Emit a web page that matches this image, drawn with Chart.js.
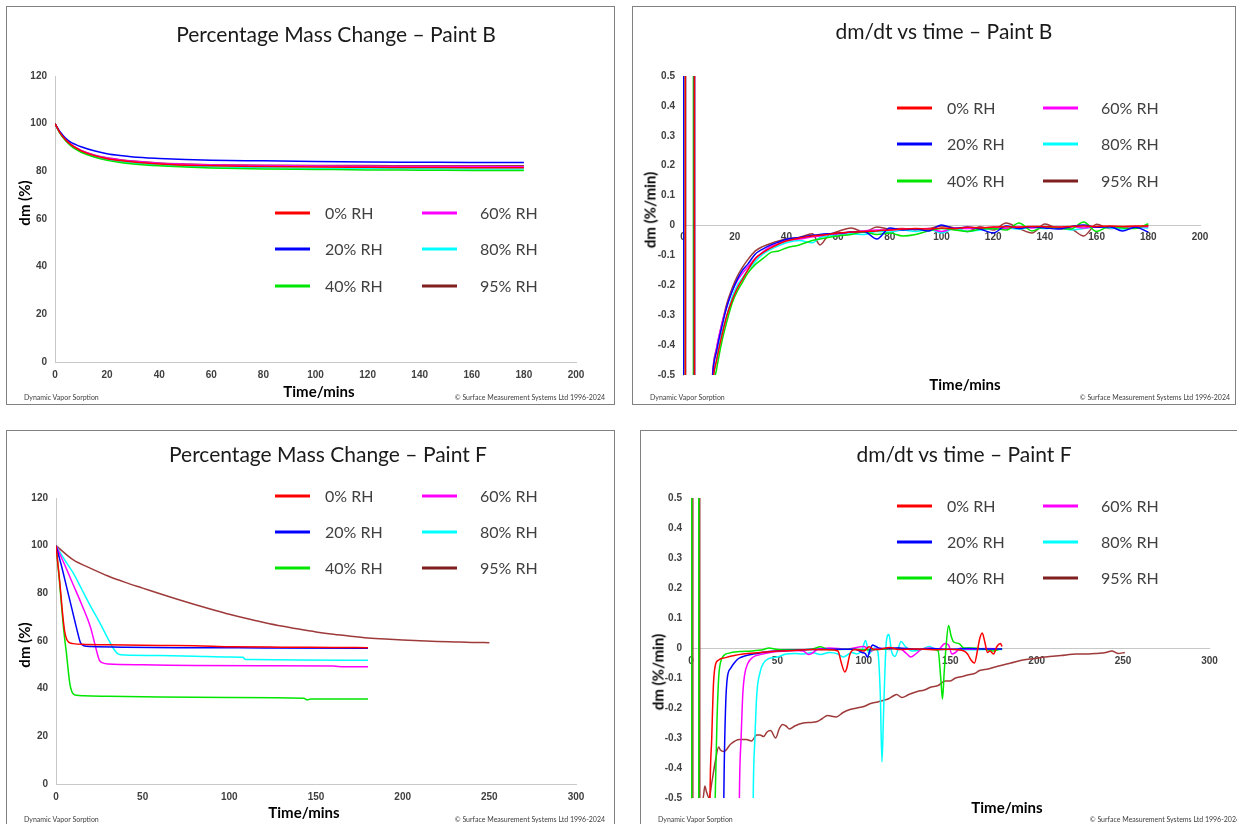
<!DOCTYPE html>
<html><head><meta charset="utf-8">
<script src="https://cdn.jsdelivr.net/npm/chart.js@4.4.1/dist/chart.umd.min.js"></script>
<style>
html,body{margin:0;padding:0;background:#fff;width:1237px;height:824px;overflow:hidden;position:relative;font-family:Lato,'Open Sans',sans-serif;}
.panel{position:absolute;border:1px solid #808080;box-sizing:border-box;background:#fff;}
canvas{position:absolute;}
.t{position:absolute;white-space:nowrap;transform:translate(-50%,-50%);line-height:1;}
.ttl{font-size:21px;color:#1a1a1a;}
.ax{font-size:15px;font-weight:bold;color:#000;}
.axv{font-size:15px;font-weight:bold;color:#000;transform:translate(-50%,-50%) rotate(-90deg);}
.foot{position:absolute;font-size:7px;color:#404040;white-space:nowrap;line-height:1;transform:translateY(-50%);}
.lg{position:absolute;font-size:16px;color:#404040;white-space:nowrap;line-height:1;transform:translateY(-50%);}
.sw{position:absolute;width:35px;height:3px;transform:translateY(-50%);}
</style></head><body>
<div class="panel" style="left:6px;top:6px;width:609px;height:399px"></div>
<div class="panel" style="left:632px;top:6px;width:604px;height:399px"></div>
<div class="panel" style="left:6px;top:430px;width:609px;height:400px"></div>
<div class="panel" style="left:640px;top:430px;width:600px;height:400px"></div>
<canvas id="c1"></canvas><canvas id="c2"></canvas><canvas id="c3"></canvas><canvas id="c4"></canvas>
<div id="txt"></div>
<script>
// ---------------- DATA ----------------
const seriesNames = ['0% RH','20% RH','40% RH','60% RH','80% RH','95% RH'];

// Panel 1: Percentage Mass Change - Paint B (time in mins, dm in %)
const timeB = [0,2,4,6,8,10,15,20,25,30,40,50,60,80,100,120,140,160,180];
const massB_0  = [100,96,93.3,91.3,89.8,88.6,86.6,85.3,84.5,83.9,83.1,82.6,82.3,82.0,81.8,81.7,81.6,81.5,81.5];
const massB_20 = [100,96.5,94,92.3,91.2,90.3,88.6,87.4,86.6,86.0,85.4,85.0,84.7,84.4,84.1,83.9,83.8,83.7,83.7];
const massB_40 = [100,95.8,92.9,90.8,89.2,88.0,86.0,84.6,83.7,83.1,82.3,81.8,81.4,81.0,80.8,80.6,80.5,80.4,80.3];
const massB_60 = [100,96,93.4,91.4,89.9,88.8,86.8,85.6,84.8,84.2,83.4,83.0,82.7,82.4,82.2,82.1,82.0,82.0,81.9];
const massB_80 = [100,95.9,93.1,91.0,89.5,88.3,86.3,85.0,84.1,83.5,82.7,82.2,81.9,81.5,81.3,81.2,81.1,81.0,81.0];
const massB_95 = [100,96,93.3,91.3,89.9,88.8,86.9,85.7,84.9,84.3,83.5,83.1,82.8,82.6,82.4,82.4,82.3,82.3,82.3];

// Panel 2: dm/dt vs time - Paint B (%/min)
const timeDB = [0,0.3,0.9,0.95,4.0,4.05,4.4,4.45,9,11.5,13,15,17,19,21,23,25,28,31,34,37,40,45,50,53,56,60,65,70,75,80,85,90,95,100,105,110,115,120,125,130,135,140,145,150,155,160,165,170,175,180];
const dmdtB_0  = [-20,-20,-20,20,20,20,20,-20,-1.5,-0.53,-0.45,-0.37,-0.3,-0.25,-0.21,-0.18,-0.15,-0.11,-0.09,-0.075,-0.062,-0.052,-0.042,-0.035,-0.033,-0.03,-0.025,-0.022,-0.02,-0.018,-0.015,-0.012,-0.01,-0.012,-0.008,-0.01,-0.006,-0.008,-0.005,-0.004,-0.006,-0.003,-0.004,-0.005,-0.003,-0.002,-0.003,-0.002,-0.003,-0.002,-0.002];
const dmdtB_20 = [-20,20,20,20,20,20,20,-20,-1.5,-0.5,-0.42,-0.34,-0.27,-0.22,-0.18,-0.15,-0.13,-0.095,-0.078,-0.065,-0.055,-0.046,-0.04,-0.033,-0.03,-0.028,-0.026,-0.022,-0.02,-0.045,-0.008,-0.015,-0.012,-0.018,0.002,-0.01,-0.005,-0.012,-0.025,-0.002,-0.01,-0.004,-0.008,-0.012,-0.004,0.002,-0.006,-0.004,-0.018,-0.006,-0.022];
const dmdtB_40 = [-20,-20,-20,20,20,-20,-20,-20,-1.5,-0.56,-0.48,-0.39,-0.32,-0.26,-0.22,-0.19,-0.16,-0.13,-0.11,-0.09,-0.085,-0.075,-0.065,-0.05,-0.045,-0.04,-0.035,-0.03,-0.022,-0.03,-0.025,-0.035,-0.03,-0.018,-0.01,-0.015,-0.02,-0.012,-0.01,-0.015,0.008,-0.018,-0.005,-0.008,-0.012,0.012,-0.02,-0.003,-0.008,-0.01,0.006];
const dmdtB_60 = [-20,-20,-20,20,20,20,20,-20,-1.5,-0.5,-0.41,-0.33,-0.27,-0.22,-0.185,-0.16,-0.14,-0.11,-0.088,-0.07,-0.06,-0.05,-0.045,-0.038,-0.035,-0.03,-0.028,-0.022,-0.018,-0.015,-0.015,-0.012,-0.012,-0.01,-0.02,-0.008,-0.01,-0.008,-0.006,-0.01,-0.004,-0.008,-0.004,-0.006,-0.004,-0.008,-0.004,-0.005,-0.006,-0.004,-0.004];
const dmdtB_80 = [-20,-20,-20,20,20,20,20,-20,-1.5,-0.53,-0.45,-0.36,-0.3,-0.24,-0.2,-0.175,-0.15,-0.12,-0.095,-0.08,-0.068,-0.058,-0.05,-0.058,-0.04,-0.035,-0.03,-0.028,-0.03,-0.02,-0.022,-0.015,-0.02,-0.012,-0.025,-0.01,-0.02,-0.015,-0.01,-0.008,-0.012,-0.006,-0.01,-0.006,-0.015,-0.01,-0.004,-0.008,-0.012,-0.006,-0.008];
const dmdtB_95 = [-20,-20,-20,20,20,20,20,-20,-1.5,-0.49,-0.41,-0.33,-0.26,-0.21,-0.17,-0.14,-0.115,-0.085,-0.07,-0.06,-0.052,-0.045,-0.04,-0.028,-0.065,-0.035,-0.02,-0.008,-0.022,-0.005,-0.012,-0.01,-0.015,-0.01,-0.002,-0.008,-0.02,-0.004,-0.015,0.008,-0.01,-0.025,0.005,-0.01,-0.012,-0.035,0.004,-0.01,-0.006,-0.008,0.002];

// Panel 3: Percentage Mass Change - Paint F  [time, dm%]
const massF_0  = [[0,100],[2,86],[4,70],[5,64],[6,61],[7,59.8],[8,59.2],[10,58.9],[15,58.6],[30,58.4],[60,58.1],[80,58.0],[100,57.6],[130,57.4],[160,57.3],[180,57.2]];
const massF_20 = [[0,100],[3,92],[6,83],[9,74],[12,65],[14,59.5],[16,58],[20,57.7],[40,57.4],[70,57.2],[120,57.1],[180,57.0]];
const massF_40 = [[0,100],[2,85],[4,68],[5,61],[6,55],[7,48],[8,42],[9,39],[10,37.8],[12,37.2],[16,37.0],[30,36.8],[60,36.5],[100,36.3],[143,36.0],[145,35.3],[147,35.7],[180,35.7]];
const massF_60 = [[0,100],[5,92],[10,83.5],[15,75],[20,65.5],[23,57],[25,52],[27,50.8],[30,50.3],[50,50.0],[80,49.7],[120,49.6],[160,49.5],[166,49.2],[180,49.2]];
const massF_80 = [[0,100],[5,94],[10,88.5],[15,81.5],[20,74.5],[25,68],[30,61],[33,57],[36,54.5],[40,54.1],[60,53.9],[80,53.6],[100,53.3],[108,53.2],[109,52.3],[112,52.2],[140,52.0],[180,51.9]];
const massF_95 = [[0,100],[10,94],[20,90.5],[30,87.3],[40,84.6],[50,82.2],[60,79.8],[70,77.5],[80,75.3],[90,73.2],[100,71.2],[110,69.4],[120,67.8],[130,66.3],[140,65],[150,63.8],[160,62.8],[170,62],[180,61.3],[190,60.8],[200,60.4],[210,60.1],[220,59.8],[230,59.6],[240,59.4],[250,59.3]];

// Panel 4: dm/dt vs time - Paint F  [time, %/min]
const dmdtF_0  = [[8,-3],[11,-0.5],[12,-0.3],[13,-0.12],[14,-0.06],[16,-0.04],[20,-0.032],[25,-0.025],[30,-0.02],[40,-0.015],[50,-0.01],[60,-0.008],[70,-0.005],[80,-0.006],[85,-0.01],[87,-0.05],[89,-0.08],[90,-0.07],[92,-0.02],[95,-0.005],[100,-0.01],[103,0.004],[106,-0.005],[110,-0.004],[115,0.002],[120,-0.005],[130,-0.003],[140,-0.006],[150,-0.004],[158,-0.01],[160,-0.02],[162,-0.04],[164,-0.05],[166,0.0],[167,0.03],[168.5,0.05],[170,0.02],[171.5,-0.015],[173,-0.01],[175,-0.02],[177,0.005],[179,0.015],[180,0.005]];
const dmdtF_20 = [[16,-3],[19,-0.5],[20,-0.2],[21,-0.1],[23,-0.067],[25,-0.05],[27.5,-0.035],[32,-0.025],[38,-0.018],[45,-0.012],[55,-0.008],[65,-0.006],[80,-0.004],[95,-0.004],[99,-0.015],[101,-0.02],[102,-0.03],[104,0.0],[105,0.01],[107,0.005],[110,-0.002],[120,0.0],[130,-0.004],[140,-0.002],[150,-0.004],[160,-0.002],[170,-0.003],[180,-0.003]];
const dmdtF_40 = [[0.35,-20],[0.5,20],[4.4,20],[4.55,-20],[10,-2],[14,-0.5],[15,-0.25],[16,-0.1],[17,-0.05],[19,-0.025],[22,-0.017],[28,-0.012],[35,-0.01],[42,-0.005],[45,0.0],[50,-0.005],[60,-0.006],[70,-0.004],[75,0.004],[80,-0.006],[90,-0.004],[100,-0.006],[110,-0.004],[120,-0.002],[130,-0.005],[140,-0.004],[143,-0.01],[144.5,-0.1],[145.5,-0.17],[146.5,-0.08],[147.5,0.0],[149,0.075],[150.5,0.04],[152,0.02],[155,0.015],[158,0.0],[162,0.0],[170,-0.004],[175,-0.01],[178,-0.005],[180,-0.002]];
const dmdtF_60 = [[25,-3],[28,-0.5],[29,-0.3],[30,-0.15],[31,-0.09],[33,-0.05],[36,-0.03],[40,-0.022],[45,-0.016],[50,-0.012],[60,-0.008],[65,-0.01],[68,-0.022],[70,-0.018],[73,-0.005],[80,0.0],[90,-0.004],[100,0.005],[104,-0.01],[108,0.0],[115,-0.005],[120,0.0],[125,-0.02],[127,-0.03],[130,-0.02],[133,-0.005],[138,0.0],[143,-0.005],[147,0.015],[149,0.01],[151,-0.02],[153,-0.015],[156,0.0],[160,-0.004],[170,-0.002],[180,-0.003]];
const dmdtF_80 = [[33,-3],[36,-0.5],[37,-0.3],[38,-0.16],[40,-0.08],[42,-0.05],[45,-0.035],[50,-0.03],[55,-0.02],[60,-0.018],[65,-0.02],[70,-0.015],[75,-0.022],[80,-0.015],[85,-0.02],[88,-0.03],[90,-0.025],[93,-0.015],[96,-0.02],[99,-0.005],[101,0.025],[103,-0.02],[106,0.0],[108,-0.01],[109.5,-0.15],[110.5,-0.38],[111.5,-0.2],[113,0.02],[114.5,0.045],[116,-0.01],[118,-0.028],[120,0.0],[121.5,0.022],[124,0.005],[128,-0.01],[133,-0.005],[138,0.005],[142,-0.006],[150,-0.004],[160,-0.006],[170,-0.005],[180,-0.005]];
const dmdtF_95 = [[1.0,-20],[1.15,20],[5.0,20],[5.15,-20],[6.5,-0.52],[7,-0.5],[8,-0.46],[9,-0.48],[10.5,-0.5],[12,-0.45],[14,-0.38],[16,-0.33],[17,-0.34],[19,-0.345],[23,-0.32],[28,-0.305],[32,-0.305],[35,-0.31],[38,-0.29],[40,-0.29],[42,-0.295],[44,-0.28],[46,-0.275],[49,-0.3],[51,-0.27],[53,-0.255],[55,-0.26],[57,-0.27],[60,-0.26],[65,-0.25],[70,-0.248],[73,-0.245],[76,-0.235],[79,-0.225],[84,-0.23],[88,-0.215],[92,-0.205],[96,-0.2],[100,-0.195],[104,-0.185],[108,-0.18],[111,-0.175],[114,-0.17],[117,-0.16],[119,-0.155],[122,-0.165],[126,-0.155],[131,-0.145],[135,-0.14],[139,-0.13],[143,-0.125],[147,-0.11],[150,-0.11],[153,-0.1],[157,-0.095],[160,-0.09],[164,-0.085],[167,-0.075],[172,-0.07],[178,-0.06],[185,-0.05],[192,-0.04],[199,-0.035],[205,-0.03],[214,-0.025],[223,-0.02],[230,-0.02],[235,-0.018],[240,-0.015],[243.5,-0.01],[247,-0.018],[251,-0.015]];

// Tick values
const xTicksB = [0,20,40,60,80,100,120,140,160,180,200];
const xTicksF = [0,50,100,150,200,250,300];
const yTicksMass = [0,20,40,60,80,100,120];
const yTicksRate = [-0.5,-0.4,-0.3,-0.2,-0.1,0,0.1,0.2,0.3,0.4,0.5];

// Texts
const titles = ['Percentage Mass Change \u2013 Paint B','dm/dt vs time \u2013 Paint B','Percentage Mass Change \u2013 Paint F','dm/dt vs time \u2013 Paint F'];
const xTitle = 'Time/mins';
const yTitles = ['dm (%)','dm (%/min)','dm (%)','dm (%/min)'];
const footLeft = 'Dynamic Vapor Sorption';
const footRight = '\u00a9 Surface Measurement Systems Ltd 1996-2024';

// ---------------- STYLE ----------------
const lineColors   = ['#ff0000','#0000ff','#00e600','#ff00ff','#00ffff','#9e3a3a'];
const legendColors = ['#ff0000','#0000ff','#00e600','#ff00ff','#00ffff','#7f1f1f'];

Chart.defaults.font.family = "'Liberation Sans', Arial, sans-serif";
Chart.defaults.color = '#404040';

function fromArrays(times, vals){ return vals.map((v,i)=>({x:times[i], y:v})); }
function fromPairs(p){ return p.map(a=>({x:a[0], y:a[1]})); }
function mkSets(list){
  return list.map((d,i)=>({label:seriesNames[i], data:d, borderColor:lineColors[i], backgroundColor:lineColors[i], borderWidth:1.5, pointRadius:0, fill:false, cubicInterpolationMode:'monotone'}));
}

function buildChart(id, box, area, xTicks, yTicks, datasets, xAtZero, pad){
  const c = document.getElementById(id);
  c.style.left = box.l+'px'; c.style.top = box.t+'px';
  c.width = box.w; c.height = box.h;
  c.style.width = box.w+'px'; c.style.height = box.h+'px';
  const yW = area.l - box.l;
  const padR = box.l + box.w - area.r;
  const padT = area.t - box.t;
  const bottomSpace = box.t + box.h - area.b;
  const tickFont = {size:10, weight:'bold'};
  return new Chart(c, {
    type:'line',
    data:{datasets},
    options:{
      responsive:false, animation:false, devicePixelRatio:1,
      layout:{padding:{left:0, top:padT, right:padR, bottom: xAtZero ? bottomSpace : 0}},
      plugins:{legend:{display:false}, tooltip:{enabled:false}, title:{display:false}},
      scales:{
        x:{type:'linear', position: xAtZero ? {y:0} : 'bottom', min:xTicks[0], max:xTicks[xTicks.length-1],
           grid:{display:false, drawTicks:false}, border:{display:true, color:'#c8c8c8', width:1},
           ticks:{font:tickFont, color:'#404040', padding:pad.x, autoSkip:false, maxRotation:0},
           afterBuildTicks:s=>{ s.ticks = xTicks.map(v=>({value:v})); },
           afterFit:s=>{ if(!xAtZero) s.height = bottomSpace; }},
        y:{type:'linear', position:'left', min:yTicks[0], max:yTicks[yTicks.length-1],
           grid:{display:false, drawTicks:false}, border:{display:true, color:'#c8c8c8', width:1},
           ticks:{font:tickFont, color:'#404040', padding:pad.y, autoSkip:false},
           afterBuildTicks:s=>{ s.ticks = yTicks.map(v=>({value:v})); },
           afterFit:s=>{ s.width = yW; }}
      }
    }
  });
}

const ch1 = buildChart('c1', {l:6,t:6,w:609,h:399}, {l:55,r:576,t:76,b:362}, xTicksB, yTicksMass,
  mkSets([massB_0,massB_20,massB_40,massB_60,massB_80,massB_95].map(v=>fromArrays(timeB,v))), false, {x:7,y:8});
const ch2 = buildChart('c2', {l:632,t:6,w:604,h:399}, {l:683,r:1200,t:76,b:375}, xTicksB, yTicksRate,
  mkSets([dmdtB_0,dmdtB_20,dmdtB_40,dmdtB_60,dmdtB_80,dmdtB_95].map(v=>fromArrays(timeDB,v))), true, {x:6,y:8});
const ch3 = buildChart('c3', {l:6,t:430,w:609,h:394}, {l:56,r:576,t:498,b:784}, xTicksF, yTicksMass,
  mkSets([massF_0,massF_20,massF_40,massF_60,massF_80,massF_95].map(fromPairs)), false, {x:7,y:8});
const ch4 = buildChart('c4', {l:640,t:430,w:597,h:394}, {l:691,r:1209.5,t:498,b:798}, xTicksF, yTicksRate,
  mkSets([dmdtF_0,dmdtF_20,dmdtF_40,dmdtF_60,dmdtF_80,dmdtF_95].map(fromPairs)), true, {x:7,y:9});

// ---------------- TEXT ----------------
const txt = document.getElementById('txt');
function add(cls, text, x, y){ const d=document.createElement('div'); d.className=cls; d.textContent=text; d.style.left=x+'px'; d.style.top=y+'px'; txt.appendChild(d); return d; }
const panelText = [
  {title:[336,33], xt:[319,391], yt:[24,203], fl:[24,397], fr:[605,397], lg:{c1:[275,325], c2:[422,480], rows:[213,249,286]}},
  {title:[944,30], xt:[965,384], yt:[650,210], fl:[650,397], fr:[1230,397], lg:{c1:[897,947], c2:[1043,1101], rows:[108,144,181]}},
  {title:[328,453], xt:[304,812], yt:[24,645], fl:[24,819], fr:[605,819], lg:{c1:[275,325], c2:[422,480], rows:[496,532,568]}},
  {title:[964,453], xt:[1007,807], yt:[658,672], fl:[658,819], fr:[1240,819], lg:{c1:[897,947], c2:[1043,1101], rows:[506,542,578]}}
];
const charts = [ch1,ch2,ch3,ch4];
panelText.forEach((p,i)=>{
  add('t ttl', titles[i], p.title[0], p.title[1]);
  add('t ax', xTitle, p.xt[0], p.xt[1]);
  add('t axv', yTitles[i], p.yt[0], p.yt[1]);
  add('foot', footLeft, p.fl[0], p.fl[1]);
  const fr = add('foot', footRight, p.fr[0], p.fr[1]);
  fr.style.transform = 'translate(-100%,-50%)';
  charts[i].data.datasets.forEach((ds,k)=>{
    const col = k<3 ? p.lg.c1 : p.lg.c2;
    const y = p.lg.rows[k%3];
    const sw = document.createElement('div'); sw.className='sw'; sw.style.left=col[0]+'px'; sw.style.top=y+'px'; sw.style.background=legendColors[k]; txt.appendChild(sw);
    add('lg', ds.label, col[1], y);
  });
});
</script>
</body></html>
